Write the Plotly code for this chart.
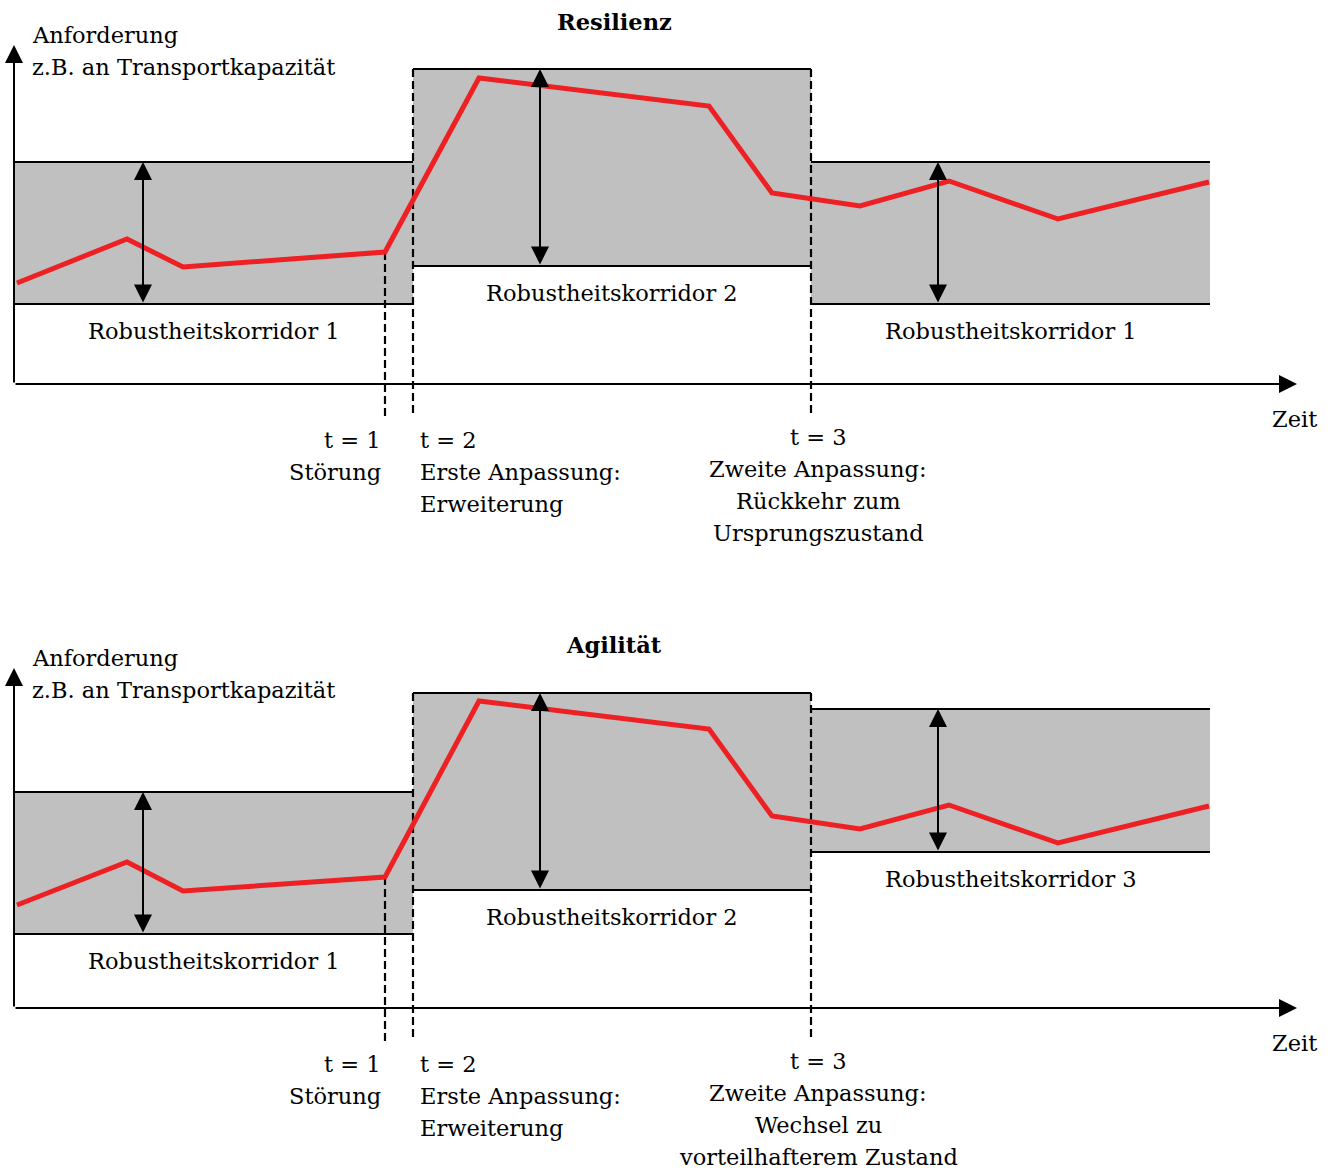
import plotly.graph_objects as go

# ---------------- data ----------------
# time axis: arbitrary units, 0 = origin of the axes
time_pts = [0.3, 11.3, 16.9, 37.1, 46.5, 69.5, 75.8, 84.6, 93.5, 104.4, 119.5]
demand_res = [10.1, 14.5, 11.7, 13.2, 30.6, 27.8, 19.1, 17.8, 20.3, 16.5, 20.2]
demand_agi = [10.3, 14.6, 11.7, 13.1, 30.7, 27.9, 19.2, 17.9, 20.3, 16.5, 20.2]

t_events = [37.1, 39.9, 79.7]          # t = 1, t = 2, t = 3
corridor_edges = [0.0, 39.9, 79.7, 119.6]

corr_res_low = [8.0, 11.8, 8.0]
corr_res_high = [22.2, 31.5, 22.2]
corr_agi_low = [7.4, 11.8, 15.6]
corr_agi_high = [21.6, 31.5, 29.9]

corr_names_res = ["Robustheitskorridor 1", "Robustheitskorridor 2", "Robustheitskorridor 1"]
corr_names_agi = ["Robustheitskorridor 1", "Robustheitskorridor 2", "Robustheitskorridor 3"]

arrow_x = [12.9, 52.6, 92.4]

event_labels_res = [
    ["t = 1", "Störung"],
    ["t = 2", "Erste Anpassung:", "Erweiterung"],
    ["t = 3", "Zweite Anpassung:", "Rückkehr zum", "Ursprungszustand"],
]
event_labels_agi = [
    ["t = 1", "Störung"],
    ["t = 2", "Erste Anpassung:", "Erweiterung"],
    ["t = 3", "Zweite Anpassung:", "Wechsel zu", "vorteilhafterem Zustand"],
]

titles = ["Resilienz", "Agilität"]
y_label_lines = ["Anforderung", "z.B. an Transportkapazität"]
x_label = "Zeit"

x_axis_end = 128.3
y_axis_end = [33.9, 34.0]
dash_bottom = -3.3

# ---------------- style ----------------
FONT = "DejaVu Serif"
FS = 22.5
BLACK = "#000000"
GRAY = "#c0c0c0"
RED = "#ed2024"
HEAD = 1.8

W, H = 1335, 1169

fig = go.Figure()
shapes = []
annotations = []

panels = [
    dict(xr="x", yr="y", demand=demand_res, low=corr_res_low, high=corr_res_high,
         names=corr_names_res, events=event_labels_res, title=titles[0], ytip=y_axis_end[0]),
    dict(xr="x2", yr="y2", demand=demand_agi, low=corr_agi_low, high=corr_agi_high,
         names=corr_names_agi, events=event_labels_agi, title=titles[1], ytip=y_axis_end[1]),
]


def txt(text, x, y, xr, yr, xanchor="center", yshift=0, xshift=0, bold=False):
    annotations.append(dict(
        text=f"<b>{text}</b>" if bold else text, x=x, y=y, xref=xr, yref=yr,
        xanchor=xanchor, yanchor="middle", showarrow=False,
        xshift=xshift, yshift=yshift,
        font=dict(family=FONT, size=FS, color=BLACK)))


for p in panels:
    xr, yr = p["xr"], p["yr"]
    # corridors
    for i in range(3):
        x0, x1 = corridor_edges[i], corridor_edges[i + 1]
        shapes.append(dict(type="rect", xref=xr, yref=yr, x0=x0, x1=x1,
                           y0=p["low"][i], y1=p["high"][i], fillcolor=GRAY,
                           line=dict(width=0), layer="below"))
    # dashed event lines
    dash_tops = [p["demand"][3], p["high"][1], p["high"][1]]
    for t, top in zip(t_events, dash_tops):
        shapes.append(dict(type="line", xref=xr, yref=yr, x0=t, x1=t,
                           y0=top, y1=dash_bottom, layer="below",
                           line=dict(color=BLACK, width=2.2, dash="8px,4px")))
    # corridor borders
    for i in range(3):
        x0, x1 = corridor_edges[i], corridor_edges[i + 1]
        for yv in (p["low"][i], p["high"][i]):
            shapes.append(dict(type="line", xref=xr, yref=yr, x0=x0, x1=x1,
                               y0=yv, y1=yv, layer="below",
                               line=dict(color=BLACK, width=2.2)))

    # demand curve
    fig.add_trace(go.Scatter(x=time_pts, y=p["demand"], xaxis=xr, yaxis=yr,
                             mode="lines", line=dict(color=RED, width=5),
                             hoverinfo="skip", showlegend=False))

    # axes arrows
    annotations.append(dict(x=x_axis_end, y=0, ax=0, ay=0, xref=xr, yref=yr,
                            axref=xr, ayref=yr, text="", showarrow=True,
                            arrowhead=2, arrowsize=HEAD, arrowwidth=2, arrowcolor=BLACK))
    annotations.append(dict(x=0, y=p["ytip"], ax=0, ay=0, xref=xr, yref=yr,
                            axref=xr, ayref=yr, text="", showarrow=True,
                            arrowhead=2, arrowsize=HEAD, arrowwidth=2, arrowcolor=BLACK))
    # corridor double arrows
    for i in range(3):
        annotations.append(dict(x=arrow_x[i], y=p["high"][i], ax=arrow_x[i], ay=p["low"][i],
                                xref=xr, yref=yr, axref=xr, ayref=yr, text="",
                                showarrow=True, arrowside="end+start",
                                arrowhead=2, startarrowhead=2, arrowsize=HEAD,
                                startarrowsize=HEAD, arrowwidth=2, arrowcolor=BLACK))
        cx = (corridor_edges[i] + corridor_edges[i + 1]) / 2
        txt(p["names"][i], cx, p["low"][i], xr, yr, yshift=-27)

    # event labels
    for j, lines in enumerate(p["events"]):
        t = t_events[j]
        for k, line in enumerate(lines):
            if j == 0:
                txt(line, t, dash_bottom, xr, yr, xanchor="right", xshift=-2,
                    yshift=-(23 + 32 * k))
            elif j == 1:
                txt(line, t, dash_bottom, xr, yr, xanchor="left", xshift=5,
                    yshift=-(23 + 32 * k))
            else:
                txt(line, t, dash_bottom, xr, yr, xanchor="center", xshift=7,
                    yshift=-(20 + 32 * k))

    # title, axis labels
    txt(p["title"], 60.0, p["ytip"] + 2.3, xr, yr, bold=True, yshift=0)
    txt(y_label_lines[0], 1.9, p["ytip"] + 1.0, xr, yr, xanchor="left", xshift=-3)
    txt(y_label_lines[1], 1.9, p["ytip"] + 1.0, xr, yr, xanchor="left", xshift=-3, yshift=-32)
    txt(x_label, x_axis_end - 0.3, -3.5, xr, yr)

# ---------------- layout ----------------
x_rng = [-14 / 10, (W - 14) / 10]
p1_top, p1_bot = 0, 580
p2_top, p2_bot = 590, H
ax_common = dict(visible=False, showgrid=False, zeroline=False, fixedrange=True)

fig.update_layout(
    width=W, height=H,
    margin=dict(l=0, r=0, t=0, b=0),
    paper_bgcolor="white", plot_bgcolor="white",
    showlegend=False,
    xaxis=dict(domain=[0, 1], range=x_rng, anchor="y", **ax_common),
    yaxis=dict(domain=[1 - p1_bot / H, 1 - p1_top / H],
               range=[(384 - p1_bot) / 10, (384 - p1_top) / 10], anchor="x", **ax_common),
    xaxis2=dict(domain=[0, 1], range=x_rng, anchor="y2", **ax_common),
    yaxis2=dict(domain=[1 - p2_bot / H, 1 - p2_top / H],
                range=[(1008 - p2_bot) / 10, (1008 - p2_top) / 10], anchor="x2", **ax_common),
    shapes=shapes,
    annotations=annotations,
    font=dict(family=FONT, size=FS, color=BLACK),
)

fig.write_html("out.html", config={"displayModeBar": False},
               post_script="document.body.style.margin='0';")
